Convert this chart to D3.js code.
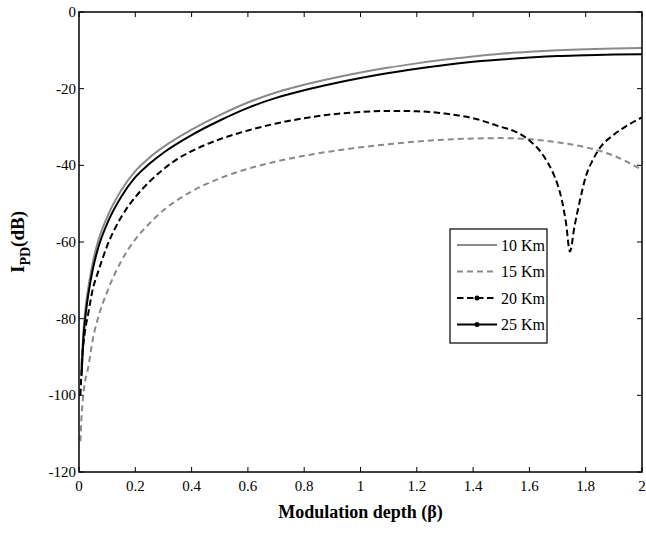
<!DOCTYPE html>
<html><head><meta charset="utf-8">
<script src="https://cdn.jsdelivr.net/npm/d3@7/dist/d3.min.js"></script>
<style>body{margin:0;background:#fff}svg{display:block}text{font-family:"Liberation Serif","Times New Roman",serif}</style>
</head><body><svg id="c" width="646" height="533"></svg>
<script>
const xTicks = [0,0.2,0.4,0.6,0.8,1,1.2,1.4,1.6,1.8,2];
const yTicks = [0,-20,-40,-60,-80,-100,-120];
const seriesNames = ["10 Km","15 Km","20 Km","25 Km"];

const beta10 = [0.008,0.015,0.025,0.035,0.05,0.067,0.1,0.15,0.2,0.25,0.3,0.4,0.5,0.6,0.7,0.8,0.9,1.0,1.1,1.2,1.3,1.4,1.5,1.6,1.7,1.8,1.9,2.0];
const km10 = [-93,-84,-76,-71,-65,-60,-53.5,-46.5,-41.5,-38,-35.2,-30.7,-26.9,-23.6,-21.0,-19.0,-17.3,-15.8,-14.5,-13.4,-12.4,-11.6,-10.9,-10.4,-10.0,-9.7,-9.5,-9.4];

const beta25 = [0.009,0.015,0.025,0.035,0.05,0.067,0.1,0.15,0.2,0.25,0.3,0.4,0.5,0.6,0.7,0.8,0.9,1.0,1.1,1.2,1.3,1.4,1.5,1.6,1.7,1.8,1.9,2.0];
const km25 = [-95,-86,-78,-72.8,-66.8,-61.8,-55.2,-48.2,-43.1,-39.6,-36.7,-32.1,-28.3,-25.0,-22.4,-20.4,-18.7,-17.2,-15.9,-14.8,-13.8,-13.0,-12.4,-11.9,-11.5,-11.3,-11.1,-11.0];

const beta20 = [0.005,0.01,0.02,0.032,0.05,0.067,0.1,0.15,0.2,0.25,0.3,0.35,0.4,0.5,0.6,0.7,0.8,0.9,1.0,1.1,1.2,1.3,1.4,1.5,1.55,1.6,1.65,1.684,1.7,1.715,1.73,1.744,1.76,1.78,1.8,1.826,1.85,1.9,1.95,2.0];
const km20 = [-100,-92,-84,-79,-72,-68,-61,-53.5,-48.3,-44.3,-41.0,-38.3,-36.3,-33.2,-30.9,-29.1,-27.7,-26.7,-26.1,-25.8,-25.9,-26.5,-27.7,-30,-31.2,-33.5,-37.5,-42,-45,-49,-55,-62.5,-56,-49,-43,-38.5,-35.5,-32,-29.5,-27.5];

const beta15 = [0.005,0.008,0.015,0.02,0.032,0.05,0.067,0.1,0.15,0.2,0.25,0.3,0.35,0.4,0.5,0.6,0.7,0.8,0.9,1.0,1.1,1.2,1.3,1.4,1.5,1.6,1.7,1.8,1.9,2.0];
const km15 = [-112,-107,-100,-97,-93,-85,-80,-73,-65,-59.3,-55.2,-51.7,-49.0,-46.8,-43.4,-40.9,-39.0,-37.5,-36.3,-35.3,-34.5,-33.8,-33.3,-33.0,-32.9,-33.2,-34.0,-35.3,-37.5,-41.2];

const W=646,H=533, m={l:79,r:4,t:12,b:61};
const svg=d3.select("#c");
const x=d3.scaleLinear().domain([0,2]).range([m.l,W-m.r]);
const y=d3.scaleLinear().domain([-120,0]).range([H-m.b,m.t]);
const x0=x(0),x1=x(2),y0=y(-120),y1=y(0);

const tl=5;
const g=svg.append("g");
xTicks.forEach(t=>{
  g.append("line").attr("x1",x(t)).attr("x2",x(t)).attr("y1",y0).attr("y2",y0-tl).attr("stroke","#000");
  g.append("line").attr("x1",x(t)).attr("x2",x(t)).attr("y1",y1).attr("y2",y1+tl).attr("stroke","#000");
  g.append("text").attr("x",x(t)).attr("y",y0+19).attr("text-anchor","middle").attr("font-size",15).text(d3.format("~g")(t));
});
yTicks.forEach(t=>{
  g.append("line").attr("x1",x0).attr("x2",x0+tl).attr("y1",y(t)).attr("y2",y(t)).attr("stroke","#000");
  g.append("line").attr("x1",x1).attr("x2",x1-tl).attr("y1",y(t)).attr("y2",y(t)).attr("stroke","#000");
  g.append("text").attr("x",x0-3).attr("y",y(t)+5).attr("text-anchor","end").attr("font-size",15).text(t);
});

const line=d3.line().x(d=>x(d[0])).y(d=>y(d[1])).curve(d3.curveMonotoneX);
const zip=(a,b)=>a.map((v,i)=>[v,b[i]]);
const styles=[
  {name:seriesNames[0],data:zip(beta10,km10),color:"#8a8a8a",dash:null,w:2,dot:false},
  {name:seriesNames[1],data:zip(beta15,km15),color:"#8a8a8a",dash:"6,4",w:2,dot:false},
  {name:seriesNames[2],data:zip(beta20,km20),color:"#000",dash:"6.5,3.5",w:2,dot:true},
  {name:seriesNames[3],data:zip(beta25,km25),color:"#000",dash:null,w:2,dot:true}
];
svg.append("clipPath").attr("id","cp").append("rect").attr("x",x0).attr("y",y1).attr("width",x1-x0).attr("height",y0-y1);
const pg=svg.append("g").attr("clip-path","url(#cp)");
styles.forEach(s=>{
  pg.append("path").attr("d",line(s.data)).attr("fill","none").attr("stroke",s.color).attr("stroke-width",s.w).attr("stroke-dasharray",s.dash);
});
svg.append("rect").attr("x",x0).attr("y",y1).attr("width",x1-x0).attr("height",y0-y1).attr("fill","none").attr("stroke","#000").attr("stroke-width",1.5);

const lg=svg.append("g");
const lx=450, ly=229, lw=97, lh=114, rs=26.5;
lg.append("rect").attr("x",lx).attr("y",ly).attr("width",lw).attr("height",lh).attr("fill","#fff").attr("stroke","#000").attr("stroke-width",1.2);
styles.forEach((s,i)=>{
  const yy=ly+16+i*rs;
  lg.append("line").attr("x1",lx+7).attr("x2",lx+47).attr("y1",yy).attr("y2",yy).attr("stroke",s.color).attr("stroke-width",s.w).attr("stroke-dasharray",s.dash);
  if(s.dot) lg.append("circle").attr("cx",lx+27).attr("cy",yy).attr("r",2.5).attr("fill",s.color);
  lg.append("text").attr("x",lx+51).attr("y",yy+5.5).attr("font-size",16).text(s.name);
});

svg.append("text").attr("x",(x0+x1)/2).attr("y",H-15).attr("text-anchor","middle").attr("font-size",18).attr("font-weight","bold").text("Modulation depth (β)");
const yl=svg.append("text").attr("transform",`translate(24,${(y0+y1)/2}) rotate(-90)`).attr("text-anchor","middle").attr("font-size",19).attr("font-weight","bold");
yl.append("tspan").text("I");
yl.append("tspan").attr("font-size",14).attr("dy",6).text("PD");
yl.append("tspan").attr("dy",-6).text("(dB)");
</script></body></html>
